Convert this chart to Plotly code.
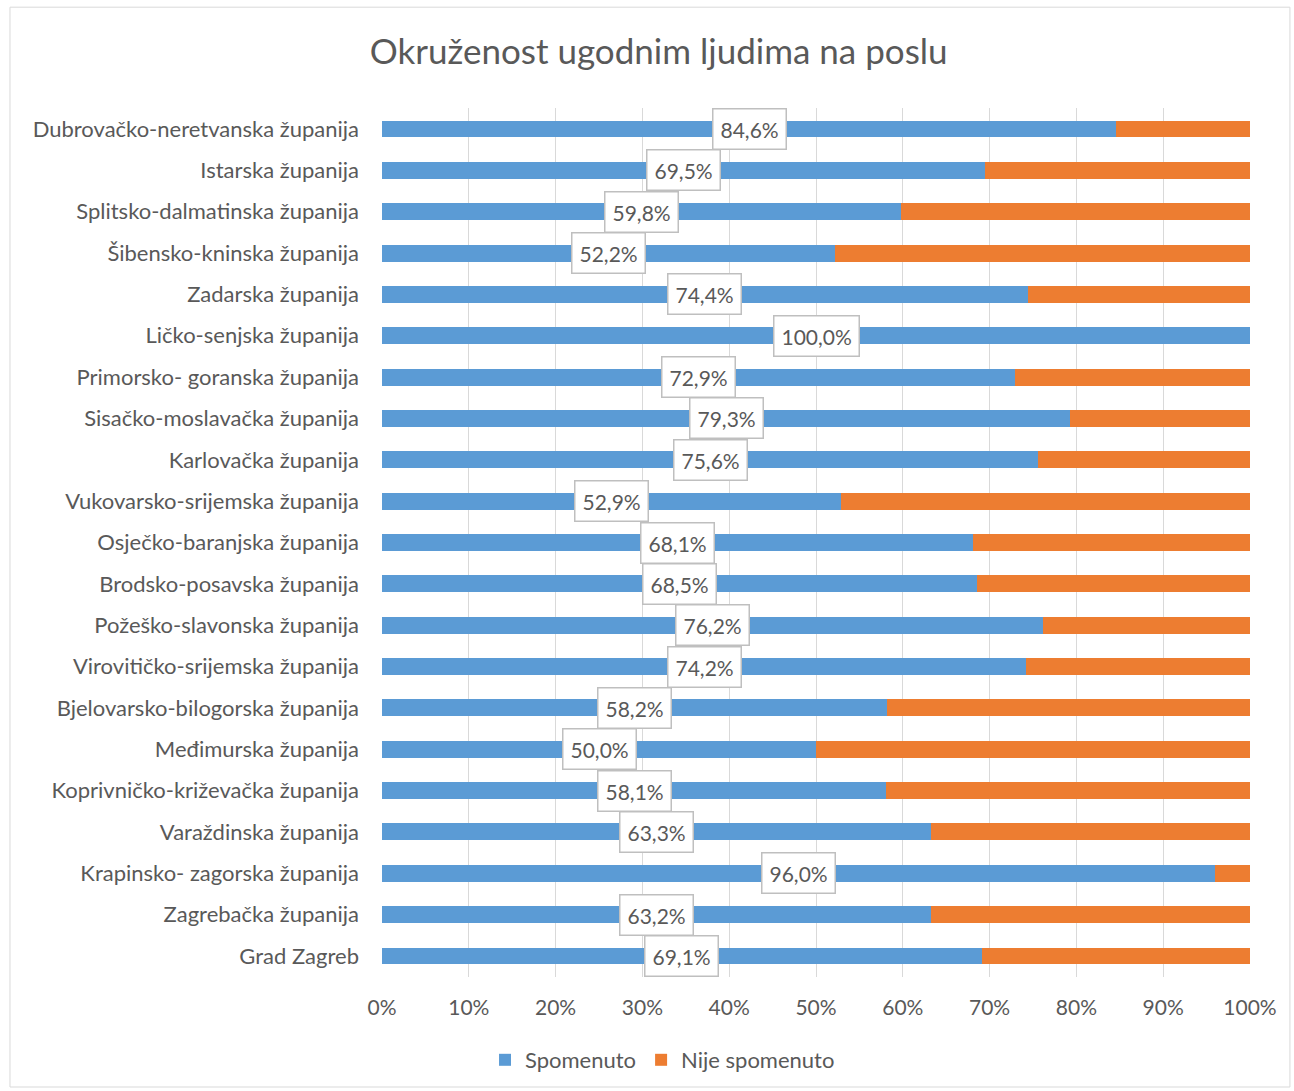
import plotly.graph_objects as go

categories = [
    "Dubrovačko-neretvanska županija", "Istarska županija", "Splitsko-dalmatinska županija",
    "Šibensko-kninska županija", "Zadarska županija", "Ličko-senjska županija",
    "Primorsko- goranska županija", "Sisačko-moslavačka županija", "Karlovačka županija",
    "Vukovarsko-srijemska županija", "Osječko-baranjska županija", "Brodsko-posavska županija",
    "Požeško-slavonska županija", "Virovitičko-srijemska županija", "Bjelovarsko-bilogorska županija",
    "Međimurska županija", "Koprivničko-križevačka županija", "Varaždinska županija",
    "Krapinsko- zagorska županija", "Zagrebačka županija", "Grad Zagreb",
]
spomenuto = [84.6, 69.5, 59.8, 52.2, 74.4, 100.0, 72.9, 79.3, 75.6, 52.9, 68.1,
             68.5, 76.2, 74.2, 58.2, 50.0, 58.1, 63.3, 96.0, 63.2, 69.1]
nije_spomenuto = [15.4, 30.5, 40.2, 47.8, 25.6, 0.0, 27.1, 20.7, 24.4, 47.1, 31.9,
                  31.5, 23.8, 25.8, 41.8, 50.0, 41.9, 36.7, 4.0, 36.8, 30.9]
tick_vals = [0, 10, 20, 30, 40, 50, 60, 70, 80, 90, 100]
tick_text = ["0%", "10%", "20%", "30%", "40%", "50%", "60%", "70%", "80%", "90%", "100%"]

FONT = "Lato"
GREY = "#595959"

fig = go.Figure()
fig.add_trace(go.Bar(y=categories, x=spomenuto, orientation="h", name="Spomenuto",
                     marker=dict(color="#5B9BD5", line=dict(width=0))))
fig.add_trace(go.Bar(y=categories, x=nije_spomenuto, orientation="h", name="Nije spomenuto",
                     marker=dict(color="#ED7D31", line=dict(width=0))))

for c, v in zip(categories, spomenuto):
    fig.add_annotation(x=v / 2, y=c, xref="x", yref="y", text=f"{v:.1f}%".replace(".", ","),
                       showarrow=False, bgcolor="white", bordercolor="#BFBFBF", borderwidth=1.5,
                       borderpad=7, font=dict(family=FONT, size=21, color=GREY))

# outer chart border
fig.add_shape(type="rect", xref="paper", yref="paper", x0=-0.4286, x1=1.046, y0=-0.1266, y1=1.116,
              line=dict(color="#D9D9D9", width=1), layer="below")

fig.update_layout(
    width=1294, height=1091,
    margin=dict(l=382, r=44, t=108, b=114),
    barmode="stack", bargap=0.59,
    plot_bgcolor="white", paper_bgcolor="white",
    font=dict(family=FONT, color=GREY),
    title=dict(text="Okruženost ugodnim ljudima na poslu", x=0.509, xref="container", xanchor="center",
               y=1 - 52 / 1091, yref="container", yanchor="middle",
               font=dict(family=FONT, size=35, color=GREY)),
    xaxis=dict(range=[0, 100], tickvals=tick_vals, ticktext=tick_text, showgrid=True,
               gridcolor="#D9D9D9", gridwidth=1, zeroline=False, showline=False,
               tickfont=dict(family=FONT, size=21, color=GREY), ticks="", ticklabelstandoff=16),
    yaxis=dict(autorange="reversed", showgrid=False, zeroline=False, showline=False, ticks="",
               tickfont=dict(family=FONT, size=22, color=GREY), ticklabelstandoff=22),
    legend=dict(orientation="h", x=0.512, xref="container", xanchor="center",
                y=1 - 1060 / 1091, yref="container", yanchor="middle",
                font=dict(family=FONT, size=22, color=GREY), traceorder="normal",
                itemwidth=30, entrywidthmode="pixels"),
    showlegend=True,
)

fig.write_html("out.html", config={"displayModeBar": False},
               post_script="document.body.style.margin='0';document.body.style.overflow='hidden';")
